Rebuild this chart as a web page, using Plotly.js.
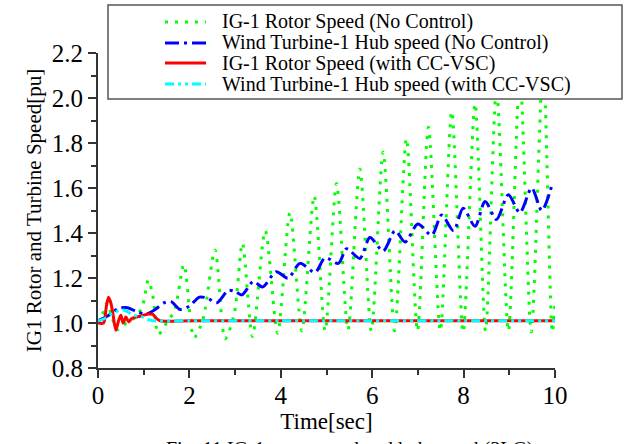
<!DOCTYPE html>
<html>
<head>
<meta charset="utf-8">
<script src="https://cdn.plot.ly/plotly-3.0.1.min.js"></script>
<style>html,body{margin:0;padding:0;background:#fff;}#chart{width:630px;height:444px;}</style>
</head>
<body>
<div id="chart"></div>
<script>
// ---- data ----
const seriesNames = [
  "IG-1 Rotor Speed (No Control)",
  "Wind Turbine-1 Hub speed (No Control)",
  "IG-1 Rotor Speed (with CC-VSC)",
  "Wind Turbine-1 Hub speed (with CC-VSC)"
];
const xTitle = "Time[sec]";
const yTitle = "IG1 Rotor and Turbine Speed[pu]";
const caption = "Fig. 11 IG-1 rotor speed and hub speed (3LG)";
const xTickVals = [0, 2, 4, 6, 8, 10];
const yTickVals = [0.8, 1.0, 1.2, 1.4, 1.6, 1.8, 2.0, 2.2];

// IG-1 rotor speed, no control (green dotted)
const rotorNoCtrlT = [0.0, 0.1, 0.2, 0.3, 0.42, 0.55, 0.7, 0.85, 0.98, 1.1, 1.2, 1.32, 1.5, 1.68, 1.88, 2.1, 2.3, 2.56, 2.78, 2.98, 3.16, 3.38, 3.66, 3.93, 4.2, 4.46, 4.73, 4.97, 5.22, 5.47, 5.73, 5.98, 6.24, 6.49, 6.75, 6.99, 7.23, 7.49, 7.74, 7.99, 8.25, 8.48, 8.72, 8.98, 9.23, 9.48, 9.74, 9.94, 10.0];
const rotorNoCtrlV = [1.0, 1.04, 1.09, 1.03, 0.97, 0.99, 1.01, 1.03, 1.08, 1.19, 1.12, 0.95, 1.0, 1.06, 1.26, 0.935, 1.02, 1.325, 0.93, 1.04, 1.355, 0.94, 1.41, 0.955, 1.49, 0.965, 1.565, 0.965, 1.62, 0.97, 1.685, 0.965, 1.76, 0.965, 1.82, 0.965, 1.87, 0.965, 1.94, 0.96, 1.975, 0.965, 2.04, 0.965, 2.1, 0.96, 2.15, 0.96, 1.08];

// Wind turbine-1 hub speed, no control (blue dash-dot)
const hubNoCtrlT = [0.0, 0.2, 0.45, 0.65, 0.85, 1.05, 1.25, 1.45, 1.6, 1.8, 2.0, 2.22, 2.4, 2.6, 2.85, 3.0, 3.15, 3.4, 3.6, 3.9, 4.16, 4.42, 4.75, 4.97, 5.26, 5.44, 5.73, 5.95, 6.24, 6.5, 6.72, 7.0, 7.3, 7.52, 7.78, 7.99, 8.25, 8.47, 8.72, 8.98, 9.23, 9.49, 9.71, 9.95];
const hubNoCtrlV = [1.01, 1.03, 1.065, 1.068, 1.05, 1.04, 1.06, 1.09, 1.095, 1.06, 1.075, 1.115, 1.11, 1.09, 1.145, 1.14, 1.125, 1.185, 1.16, 1.228, 1.199, 1.265, 1.225, 1.29, 1.265, 1.33, 1.287, 1.38, 1.32, 1.41, 1.36, 1.44, 1.39, 1.48, 1.41, 1.51, 1.43, 1.54, 1.46, 1.57, 1.49, 1.60, 1.50, 1.625];

// IG-1 rotor speed, with CC-VSC (red solid)
const rotorCtrlT = [0.0, 0.12, 0.18, 0.23, 0.28, 0.32, 0.39, 0.45, 0.5, 0.55, 0.61, 0.67, 0.74, 0.92, 1.1, 1.2, 1.28, 1.36, 2.0, 4.0, 6.0, 8.0, 10.0];
const rotorCtrlV = [1.0, 1.0, 1.07, 1.115, 1.09, 1.05, 0.968, 1.01, 1.035, 1.0, 1.027, 1.005, 1.02, 1.03, 1.04, 1.038, 1.02, 1.01, 1.01, 1.01, 1.01, 1.01, 1.01];

// Wind turbine-1 hub speed, with CC-VSC (cyan dash-dot-dot)
const hubCtrlT = [0.0, 0.15, 0.3, 0.45, 0.55, 0.65, 0.77, 0.9, 1.0, 1.1, 1.2, 2.0, 4.0, 6.0, 8.0, 10.0];
const hubCtrlV = [1.01, 1.02, 1.04, 1.055, 1.058, 1.05, 1.035, 1.03, 1.025, 1.015, 1.01, 1.01, 1.01, 1.01, 1.01, 1.01];

// ---- layout geometry (pixels of the 630x444 frame) ----
const W = 630, H = 444;
const L = 98, R = 555, T = 53, B = 368;
const px = p => (p - L) / (R - L);
const py = p => (B - p) / (B - T);
const serif = "Liberation Serif";

const colors = ['#00ff00', '#0000ff', '#ff0000', '#00ffff'];
const dashes = ['3px,7px', '14px,5px,3px,5px', 'solid', '9px,4px,3px,4px,3px,4px'];
const widths = [3, 3, 3, 3];

const xs = [rotorNoCtrlT, hubNoCtrlT, rotorCtrlT, hubCtrlT];
const ys = [rotorNoCtrlV, hubNoCtrlV, rotorCtrlV, hubCtrlV];

const traces = xs.map((x, i) => ({
  type: 'scatter', mode: 'lines', x: x, y: ys[i], name: seriesNames[i],
  line: {color: colors[i], width: widths[i], dash: dashes[i], shape: 'spline', smoothing: 0.8},
  cliponaxis: false, showlegend: false
}));

// hand-made legend box (Origin style)
const rowY = [22, 43, 63, 84];
const shapes = [{
  type: 'rect', xref: 'paper', yref: 'paper', layer: 'above',
  x0: px(108), x1: px(622), y0: py(99), y1: py(5),
  line: {color: '#555555', width: 1.5}, fillcolor: '#ffffff'
}];
const annotations = [];
seriesNames.forEach((n, i) => {
  shapes.push({
    type: 'line', xref: 'paper', yref: 'paper', layer: 'above',
    x0: px(165), x1: px(206), y0: py(rowY[i]), y1: py(rowY[i]),
    line: {color: colors[i], width: widths[i], dash: dashes[i]}
  });
  annotations.push({
    xref: 'paper', yref: 'paper', x: px(220), y: py(rowY[i]),
    xanchor: 'left', yanchor: 'middle', text: n, showarrow: false,
    font: {family: serif, size: 20, color: '#000'}
  });
});
annotations.push({
  xref: 'paper', yref: 'paper', x: px(350), y: py(436),
  xanchor: 'center', yanchor: 'top', text: caption, showarrow: false,
  font: {family: serif, size: 20, color: '#000'}
});

const axisCommon = {
  showgrid: false, zeroline: false, showline: true, linecolor: '#333333', linewidth: 2,
  ticks: 'outside', ticklen: 8, tickwidth: 2, tickcolor: '#333333',
  tickfont: {family: serif, size: 25, color: '#000'}, mirror: false
};

const layout = {
  width: W, height: H,
  margin: {l: L, r: W - R, t: T, b: H - B, pad: 0},
  paper_bgcolor: '#fff', plot_bgcolor: '#fff',
  showlegend: false,
  font: {family: serif},
  xaxis: Object.assign({}, axisCommon, {
    range: [0, 10], tickvals: xTickVals, ticktext: xTickVals.map(v => String(v)),
    ticklabelstandoff: -4,
    minor: {dtick: 1, ticklen: 5, tickwidth: 2, tickcolor: '#333333', ticks: 'outside'},
    title: {text: xTitle, font: {family: serif, size: 23, color: '#000'}, standoff: 5}
  }),
  yaxis: Object.assign({}, axisCommon, {
    range: [0.8, 2.2], tickvals: yTickVals, ticktext: yTickVals.map(v => v.toFixed(1)),
    minor: {dtick: 0.1, tick0: 0.8, ticklen: 5, tickwidth: 2, tickcolor: '#333333', ticks: 'outside'},
    title: {text: yTitle, font: {family: serif, size: 21, color: '#000'}, standoff: 4}
  }),
  shapes: shapes,
  annotations: annotations
};

Plotly.newPlot('chart', traces, layout, {displayModeBar: false, staticPlot: true});
</script>
</body>
</html>
